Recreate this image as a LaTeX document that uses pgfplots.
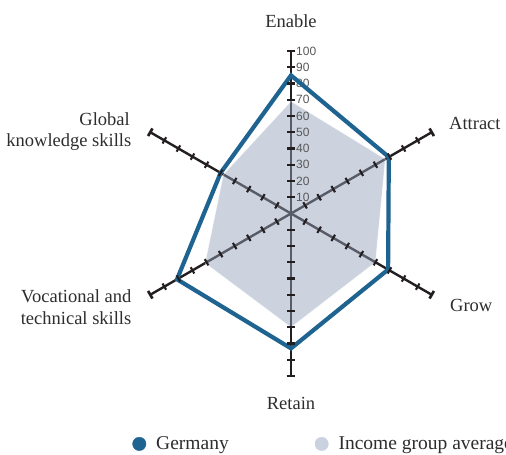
\documentclass[border=0pt]{standalone}
\usepackage{fontspec}
\setmainfont{Liberation Serif}
\newfontfamily\ticksans{Liberation Sans}
\usepackage{pgfplots}
\usepackage{pgfplotstable}
\pgfplotsset{compat=1.18}

\definecolor{gerblue}{RGB}{31,99,145}
\definecolor{avgfill}{RGB}{149,160,187}
\definecolor{avgleg}{RGB}{203,210,223}
\definecolor{spoke}{RGB}{35,31,32}
\definecolor{ticklab}{RGB}{88,88,88}
\definecolor{labtext}{RGB}{45,45,45}

% angle (deg), score 0-100
\pgfplotstableread{
angle germany average
90    85     69
30    69.5   67
-30   69     60
-90   83     70
-150  81     61
150   50     48
}\radar

\begin{document}
\begin{tikzpicture}
\useasboundingbox (0,0) rectangle (506pt,455pt);
\begin{axis}[
    at={(291pt,241.5pt)}, anchor=center,
    width=325pt, height=325pt, scale only axis,
    xmin=-100, xmax=100, ymin=-100, ymax=100,
    hide axis, clip=false,
    legend columns=2,
    legend cell align=left,
    legend style={at={(0.0114,-0.209)}, anchor=west,
        draw=none, fill=none, inner sep=0pt,
        font=\fontsize{19.5}{22}\selectfont, text=labtext,
        nodes={inner sep=0pt},
        /tikz/every odd column/.append style={column sep=10pt},
        /tikz/every even column/.append style={column sep=86pt}},
    spokeline/.style={spoke, line width=2.4pt, data cs=polar, forget plot},
    tickmk/.style={only marks, data cs=polar, forget plot, mark=-},
]
\addlegendimage{legend image code/.code={\fill[gerblue] (0pt,0pt) circle (6.7pt);}}
\addlegendentry{Germany}
\addlegendimage{legend image code/.code={\fill[avgleg] (0pt,0pt) circle (6.7pt);}}
\addlegendentry{Income group average}

% spokes
\addplot[spokeline] coordinates {(90,100) (-90,100)};
\addplot[spokeline] coordinates {(30,100) (-150,100)};
\addplot[spokeline] coordinates {(-30,100) (150,100)};

% tick marks across each spoke
\pgfplotsinvokeforeach{90,30,-30,-90,-150,150}{
  \addplot[tickmk, mark size=3.6pt,
        mark options={draw=spoke, line width=2.1pt, rotate=#1-90}]
    coordinates {(#1,10) (#1,20) (#1,30) (#1,40) (#1,50) (#1,60) (#1,70) (#1,80) (#1,90)};
  \addplot[tickmk, mark size=4.4pt,
        mark options={draw=spoke, line width=2.7pt, rotate=#1-90}]
    coordinates {(#1,100)};
}

% income group average
\addplot[fill=avgfill, fill opacity=0.47, draw=white, draw opacity=0.5,
    line width=0.6pt, data cs=polar, forget plot]
    table[x=angle, y=average] {\radar} -- cycle;

% scale labels on the Enable spoke
\pgfplotsinvokeforeach{10,20,30,40,50,60,70,80,90,100}{
  \node[anchor=west, xshift=5pt, inner sep=0pt, text=ticklab,
        font=\ticksans\fontsize{12}{12}\selectfont] at (axis cs:0,#1) {#1};
}

% Germany
\addplot[gerblue, line width=4.2pt, line join=miter, data cs=polar, forget plot]
    table[x=angle, y=germany] {\radar} -- cycle;
\end{axis}

\begin{scope}[every node/.style={inner sep=0pt, text=labtext,
    font=\fontsize{18.5}{22}\selectfont}]
\node[anchor=base] at (291pt,427.3pt) {Enable};
\node[anchor=base west] at (449pt,325.7pt) {Attract};
\node[anchor=base west] at (450pt,143.3pt) {Grow};
\node[anchor=base] at (291pt,45pt) {Retain};
\node[anchor=base east] at (130pt,329pt) {Global};
\node[anchor=base east] at (131.5pt,308pt) {knowledge skills};
\node[anchor=base east] at (131.5pt,152.3pt) {Vocational and};
\node[anchor=base east] at (131.5pt,130pt) {technical skills};
\end{scope}
\end{tikzpicture}
\end{document}
